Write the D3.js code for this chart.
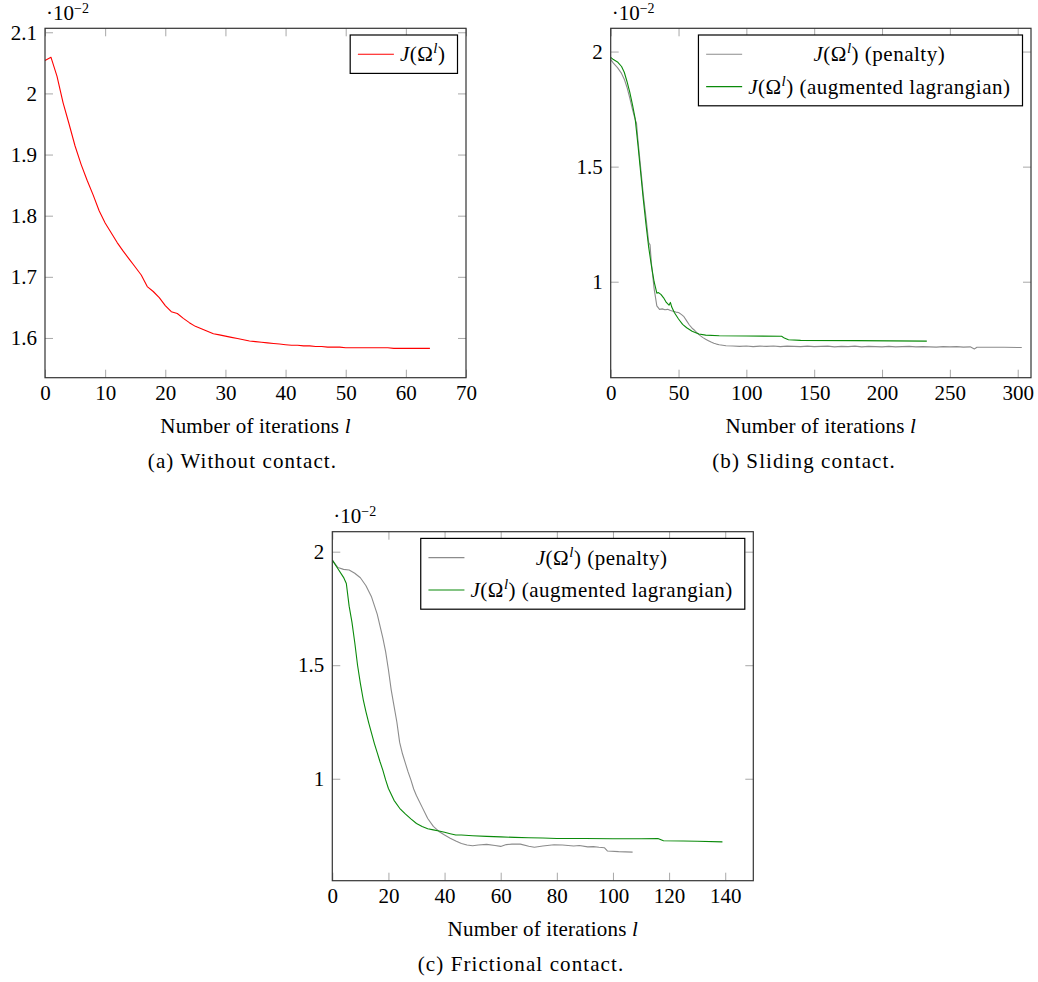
<!DOCTYPE html>
<html>
<head>
<meta charset="utf-8">
<script src="https://cdn.jsdelivr.net/npm/d3@7"></script>
<style>
  body { margin: 0; background: #fff; }
  svg text { font-family: "Liberation Serif", "DejaVu Serif", serif; }
  .tick text { font-size: 21px; fill: #000; }
  .tick line { stroke: #a8a8a8; }
  .label { font-size: 21px; letter-spacing: 0.2px; }
  .caption { font-size: 21px; letter-spacing: 1.1px; }
  .legend text { letter-spacing: 0.5px; }
</style>
</head>
<body>
<svg id="chart" width="1038" height="982"></svg>
<script>
'use strict';

// (a) Without contact
const aIter = d3.range(0, 65);
const aJ = [
  2.054, 2.059, 2.028, 1.985, 1.950, 1.914, 1.884, 1.858, 1.834, 1.808,
  1.788, 1.772, 1.756, 1.742, 1.729, 1.716, 1.703, 1.684, 1.676, 1.666,
  1.653, 1.643, 1.640, 1.632, 1.625, 1.619, 1.615, 1.611, 1.607, 1.605,
  1.603, 1.601, 1.599, 1.597, 1.595, 1.594, 1.593, 1.592, 1.591, 1.590,
  1.589, 1.588, 1.588, 1.587, 1.587, 1.586, 1.586, 1.585, 1.585, 1.585,
  1.584, 1.584, 1.584, 1.584, 1.584, 1.584, 1.584, 1.584, 1.583, 1.583,
  1.583, 1.583, 1.583, 1.583, 1.583
];

// (b) Sliding contact
const bPenIter = [
  0, 2, 5, 8, 10, 12, 14, 16, 18, 19, 20, 22, 24, 26, 28, 29, 30, 32, 34, 36,
  38, 40, 42, 44, 46, 48, 50, 52, 54, 56, 58, 60, 62, 64, 66, 68, 70, 72, 74, 76,
  78, 80, 85, 90, 95, 100, 105, 110, 115, 120, 125, 130, 135, 140, 145, 150, 155,
  160, 165, 170, 175, 180, 185, 190, 195, 200, 205, 210, 215, 220, 225, 230, 235,
  240, 245, 250, 255, 260, 265, 268, 270, 280, 290, 303
];
const bPenJ = [
  1.965, 1.950, 1.930, 1.905, 1.880, 1.845, 1.800, 1.750, 1.705, 1.690, 1.620, 1.500,
  1.380, 1.280, 1.170, 1.160, 1.080, 0.970, 0.895, 0.880, 0.882, 0.878, 0.880, 0.875,
  0.872, 0.868, 0.866, 0.858, 0.848, 0.830, 0.812, 0.798, 0.788, 0.776, 0.766, 0.757,
  0.750, 0.744, 0.738, 0.733, 0.729, 0.726, 0.722, 0.721, 0.719, 0.721, 0.718, 0.720,
  0.719, 0.721, 0.718, 0.720, 0.719, 0.718, 0.720, 0.718, 0.719, 0.720, 0.717, 0.719,
  0.718, 0.720, 0.717, 0.719, 0.718, 0.717, 0.719, 0.717, 0.718, 0.719, 0.717, 0.718,
  0.717, 0.716, 0.718, 0.717, 0.718, 0.716, 0.717, 0.708, 0.715, 0.715, 0.715, 0.714
];
const bAugIter = [
  0, 2, 5, 8, 10, 12, 14, 16, 18, 20, 22, 24, 26, 28, 30, 32, 33, 34, 35, 37,
  39, 41, 43, 44, 45, 47, 50, 53, 56, 60, 65, 70, 80, 100, 126, 128, 131, 140, 180, 233
];
const bAugJ = [
  1.975, 1.965, 1.955, 1.935, 1.910, 1.870, 1.825, 1.770, 1.710, 1.600, 1.480, 1.360,
  1.250, 1.150, 1.070, 1.000, 0.975, 0.950, 0.953, 0.945, 0.930, 0.910, 0.898, 0.910,
  0.890, 0.865, 0.838, 0.815, 0.800, 0.785, 0.773, 0.768, 0.765, 0.764, 0.763, 0.755,
  0.748, 0.745, 0.744, 0.742
];

// (c) Frictional contact
const cPenIter = [
  0, 2, 4, 6, 8, 10, 12, 14, 16, 18, 19, 20, 21, 22, 23, 24, 25, 26, 27, 28, 29, 30,
  32, 34, 36, 38, 40, 42, 44, 46, 48, 50, 52, 55, 58, 60, 62, 64, 67, 70, 72, 75, 79,
  82, 86, 88, 91, 93, 95, 97, 98, 102, 107
];
const cPenJ = [
  1.963, 1.930, 1.922, 1.919, 1.905, 1.885, 1.850, 1.800, 1.725, 1.620, 1.560, 1.480,
  1.390, 1.320, 1.250, 1.160, 1.110, 1.070, 1.030, 0.995, 0.955, 0.925, 0.875, 0.825,
  0.790, 0.768, 0.752, 0.738, 0.726, 0.715, 0.708, 0.705, 0.708, 0.711, 0.706, 0.702,
  0.710, 0.712, 0.712, 0.703, 0.698, 0.704, 0.709, 0.708, 0.704, 0.706, 0.700, 0.701,
  0.698, 0.696, 0.682, 0.679, 0.677
];
const cAugIter = [
  0, 2, 4, 5, 6, 7, 8, 9, 10, 11, 12, 13, 14, 15, 16, 17, 18, 19, 20, 22, 24, 26, 28,
  30, 32, 34, 36, 38, 40, 42, 44, 46, 50, 55, 60, 65, 70, 75, 80, 90, 100, 110, 116,
  118, 125, 130, 139
];
const cAugJ = [
  1.963, 1.925, 1.887, 1.860, 1.760, 1.690, 1.600, 1.500, 1.420, 1.350, 1.295, 1.245,
  1.200, 1.155, 1.115, 1.075, 1.038, 0.995, 0.957, 0.905, 0.870, 0.845, 0.823, 0.803,
  0.790, 0.780, 0.775, 0.770, 0.764, 0.758, 0.752, 0.752, 0.749, 0.746, 0.744, 0.742,
  0.740, 0.739, 0.737, 0.737, 0.736, 0.736, 0.737, 0.727, 0.726, 0.725, 0.722
];

const COLOR_RED = '#ff0000';
const COLOR_GRAY = '#8c8c8c';
const COLOR_GREEN = '#0a8a0a';

const zip = (xs, ys) => xs.map((v, i) => [v, ys[i]]);

const panels = [
  {
    left: 45, right: 466, top: 28.3, bottom: 377.7,
    xDomain: [0, 70], yDomain: [1.535, 2.1065],
    xTicks: [0, 10, 20, 30, 40, 50, 60, 70],
    yTicks: [1.6, 1.7, 1.8, 1.9, 2, 2.1],
    captionX: 242.5, caption: '(a) Without contact.',
    series: [
      { suffix: '', color: COLOR_RED, points: zip(aIter, aJ) }
    ]
  },
  {
    left: 610.7, right: 1031, top: 28.3, bottom: 377.7,
    xDomain: [0, 309.8], yDomain: [0.583, 2.101],
    xTicks: [0, 50, 100, 150, 200, 250, 300],
    yTicks: [1, 1.5, 2],
    captionX: 804, caption: '(b) Sliding contact.',
    series: [
      { suffix: '(penalty)', color: COLOR_GRAY, points: zip(bPenIter, bPenJ) },
      { suffix: '(augmented lagrangian)', color: COLOR_GREEN, points: zip(bAugIter, bAugJ) }
    ]
  },
  {
    left: 332.3, right: 753.3, top: 531.7, bottom: 880.7,
    xDomain: [0, 150], yDomain: [0.551, 2.088],
    xTicks: [0, 20, 40, 60, 80, 100, 120, 140],
    yTicks: [1, 1.5, 2],
    captionX: 521, caption: '(c) Frictional contact.',
    series: [
      { suffix: '(penalty)', color: COLOR_GRAY, points: zip(cPenIter, cPenJ) },
      { suffix: '(augmented lagrangian)', color: COLOR_GREEN, points: zip(cAugIter, cAugJ) }
    ]
  }
];

const TICK_LEN = 8;

// J(Omega^l) label with an optional suffix
function writeJ (text, suffix) {
  text.append('tspan').attr('font-style', 'italic').text('J');
  text.append('tspan').text('(Ω');
  text.append('tspan').attr('font-style', 'italic').attr('font-size', '15px')
    .attr('dy', -8).text('l');
  text.append('tspan').attr('dy', 8).text(')');
  if (suffix) text.append('tspan').text(' ' + suffix);
}

function drawPanel (svg, panel) {
  const g = svg.append('g').attr('class', 'panel');

  const x = d3.scaleLinear().domain(panel.xDomain).range([panel.left, panel.right]);
  const y = d3.scaleLinear().domain(panel.yDomain).range([panel.bottom, panel.top]);

  // Ticks on all four sides, pointing inward
  g.append('g')
    .attr('transform', 'translate(0,' + panel.bottom + ')')
    .call(d3.axisBottom(x).tickValues(panel.xTicks).tickSizeInner(-TICK_LEN)
      .tickSizeOuter(0).tickPadding(7).tickFormat(d3.format('d')))
    .call(s => s.select('.domain').remove());

  g.append('g')
    .attr('transform', 'translate(0,' + panel.top + ')')
    .call(d3.axisTop(x).tickValues(panel.xTicks).tickSizeInner(-TICK_LEN)
      .tickSizeOuter(0).tickFormat(''))
    .call(s => s.select('.domain').remove());

  g.append('g')
    .attr('transform', 'translate(' + panel.left + ',0)')
    .call(d3.axisLeft(y).tickValues(panel.yTicks).tickSizeInner(-TICK_LEN)
      .tickSizeOuter(0).tickPadding(8).tickFormat(d3.format('~g')))
    .call(s => s.select('.domain').remove());

  g.append('g')
    .attr('transform', 'translate(' + panel.right + ',0)')
    .call(d3.axisRight(y).tickValues(panel.yTicks).tickSizeInner(-TICK_LEN)
      .tickSizeOuter(0).tickFormat(''))
    .call(s => s.select('.domain').remove());

  // d3 axes set a sans font on their groups; use the serif face for labels
  g.selectAll('.tick text')
    .attr('font-family', '"Liberation Serif", "DejaVu Serif", serif');

  // Series
  const line = d3.line()
    .x(d => x(d[0]))
    .y(d => y(d[1]));

  g.selectAll('.series')
    .data(panel.series)
    .enter()
    .append('path')
      .attr('class', 'series')
      .attr('d', d => line(d.points))
      .attr('fill', 'none')
      .attr('stroke', d => d.color)
      .attr('stroke-width', 1.1)
      .attr('stroke-linejoin', 'round');

  // Frame
  g.append('rect')
    .attr('x', panel.left)
    .attr('y', panel.top)
    .attr('width', panel.right - panel.left)
    .attr('height', panel.bottom - panel.top)
    .attr('fill', 'none')
    .attr('stroke', '#333')
    .attr('stroke-width', 1.2);

  // Scale factor label
  const sf = g.append('text')
    .attr('x', panel.left + 1)
    .attr('y', panel.top - 8.5)
    .attr('font-size', '21px');
  sf.append('tspan').text('·10');
  sf.append('tspan').attr('font-size', '14px').attr('dy', -7).text('−2');

  // Axis label and caption
  const xl = g.append('text')
    .attr('class', 'label')
    .attr('x', (panel.left + panel.right) / 2)
    .attr('y', panel.bottom + 55)
    .attr('text-anchor', 'middle');
  xl.append('tspan').text('Number of iterations ');
  xl.append('tspan').attr('font-style', 'italic').text('l');

  g.append('text')
    .attr('class', 'caption')
    .attr('x', panel.captionX)
    .attr('y', panel.bottom + 90)
    .attr('text-anchor', 'middle')
    .text(panel.caption);

  // Legend
  const rowH = 32.4;
  const legend = g.append('g').attr('class', 'legend');
  const box = legend.append('rect')
    .attr('fill', '#fff')
    .attr('stroke', '#000')
    .attr('stroke-width', 1.2);

  const texts = panel.series.map((s, i) => {
    const t = legend.append('text')
      .attr('font-size', '21px')
      .attr('y', panel.top + 6.7 + 3 + rowH * (i + 0.5) + 7)
      .attr('text-anchor', 'middle');
    writeJ(t, s.suffix);
    return t;
  });
  const textW = d3.max(texts, t => t.node().getComputedTextLength());
  const boxW = 7.7 + 36 + 6 + textW + 12;
  const boxLeft = panel.right - 8.5 - boxW;
  const boxH = 6 + rowH * panel.series.length;

  box.attr('x', boxLeft).attr('y', panel.top + 6.7)
    .attr('width', boxW).attr('height', boxH);

  texts.forEach(t => t.attr('x', boxLeft + 7.7 + 36 + 6 + textW / 2));

  panel.series.forEach((s, i) => {
    const ly = panel.top + 6.7 + 3 + rowH * (i + 0.5);
    legend.append('line')
      .attr('x1', boxLeft + 7.7).attr('x2', boxLeft + 7.7 + 36)
      .attr('y1', ly).attr('y2', ly)
      .attr('stroke', s.color)
      .attr('stroke-width', 1.1);
  });
}

const svg = d3.select('#chart');
panels.forEach(p => drawPanel(svg, p));
</script>
</body>
</html>
